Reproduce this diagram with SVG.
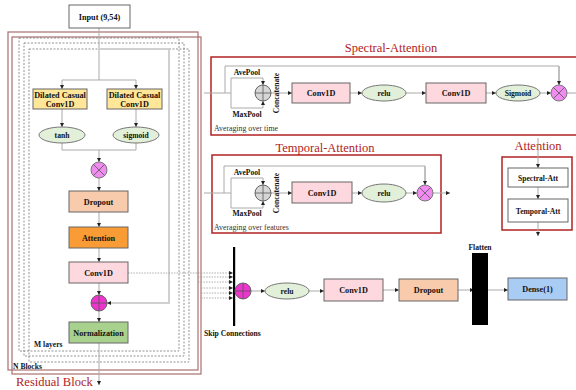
<svg xmlns="http://www.w3.org/2000/svg" width="576" height="390" viewBox="0 0 576 390">
<defs>
<marker id="ah" viewBox="0 0 6 6" refX="6" refY="3" markerWidth="4" markerHeight="4" markerUnits="userSpaceOnUse" orient="auto"><path d="M0,0 L6,3 L0,6 z" fill="#222"/></marker>
<style>
.t{font-family:"Liberation Serif","Times New Roman",serif;font-weight:bold;font-size:8.2px;fill:#111;text-anchor:middle}
.ts{font-family:"Liberation Serif","Times New Roman",serif;font-weight:bold;font-size:7.6px;fill:#111;text-anchor:middle}
.tl{font-family:"Liberation Serif","Times New Roman",serif;font-size:7.8px;fill:#333}
.ttl{font-family:"Liberation Serif","Times New Roman",serif;font-size:12.5px;fill:#b22222;text-anchor:middle}
.box{stroke:#666;stroke-width:1}
.ln{stroke:#aaa;stroke-width:1;fill:none}
.lnm{stroke:#aaa;stroke-width:1;fill:none;marker-end:url(#ah)}
.res{stroke:#a97070;stroke-width:1.2;fill:none}
.dash{stroke:#777;stroke-width:0.8;fill:none;stroke-dasharray:2,1.5}
.dot{stroke:#999;stroke-width:0.8;fill:none;stroke-dasharray:1.5,1.2;marker-end:url(#ah)}
.red{stroke:#b22222;stroke-width:1.5;fill:none}
.ell{fill:#e2efd9;stroke:#777;stroke-width:1}
.mul{fill:#f08cf0;stroke:#777;stroke-width:1}
.add{fill:#ec35cc;stroke:#666;stroke-width:1}
.cat{fill:#d6d6d6;stroke:#666;stroke-width:1}
.x{stroke:#555;stroke-width:0.8}
</style>
</defs>
<rect width="576" height="390" fill="#fff"/>

<!-- container frames -->
<g id="residual-frames">
<rect class="res" x="8" y="32" width="190" height="338"/>
<rect class="res" x="12" y="37" width="189" height="337"/>
<rect class="dash" x="19" y="38" width="160" height="313"/>
<rect class="dash" x="24" y="43" width="160" height="313"/>
<rect class="dash" x="29" y="49" width="160" height="313"/>
<text x="34" y="347" class="ts" style="text-anchor:start">M layers</text>
<text x="13" y="369" class="ts" style="text-anchor:start">N Blocks</text>
<text x="16" y="386" class="ttl" style="text-anchor:start">Residual Block</text>
</g>

<g id="spectral-frame">
<rect class="red" x="211" y="57" width="368" height="78"/>
<text x="391" y="52" class="ttl">Spectral-Attention</text>
<text x="214" y="131" class="tl">Averaging over time</text>
</g>
<g id="temporal-frame">
<rect class="red" x="212" y="155" width="229" height="78"/>
<text x="325" y="152" class="ttl">Temporal-Attention</text>
<text x="214" y="230" class="tl">Averaging over features</text>
</g>
<g id="attention-frame">
<rect class="red" x="502" y="157" width="70" height="73"/>
<text x="538" y="150" class="ttl">Attention</text>
</g>

<!-- connectors -->
<g id="connectors">
<path class="ln" d="M99,28 V80 M62,80 H136"/>
<path class="lnm" d="M62,80 V89"/>
<path class="lnm" d="M136,80 V89"/>
<path class="lnm" d="M62,109 V127"/>
<path class="lnm" d="M136,109 V127"/>
<path class="ln" d="M62,143 V150 H136 V143"/>
<path class="lnm" d="M99,150 V162"/>
<path class="lnm" d="M99,178 V191"/>
<path class="lnm" d="M99,212 V227"/>
<path class="lnm" d="M99,248 V262"/>
<path class="lnm" d="M99,283 V295"/>
<path class="lnm" d="M99,311 V322"/>
<path class="lnm" d="M99,343 V385"/>
<path d="M99,49 H169 V303 H107" fill="none" stroke="#d0d0d0" stroke-width="2" marker-end="url(#ah)"/>
<!-- skip -->
<path class="dot" d="M128,273 H233"/>
<path class="dot" d="M198,277 H233"/>
<path class="dot" d="M198,282 H233"/>
<path class="dot" d="M201,288 H233"/>
<path class="dot" d="M201,293 H233"/>
<path class="dot" d="M201,298 H233"/>
<path class="lnm" d="M251,291 H265"/>
<path class="lnm" d="M309,291 H324"/>
<path class="lnm" d="M383,290 H399"/>
<path class="lnm" d="M458,290 H474"/>
<path class="lnm" d="M488,290 H508"/>
<!-- spectral -->
<path class="ln" d="M204,93 H231 M225,93 V66 H559 V85"/>
<path class="lnm" d="M559,66 V85"/>
<path class="lnm" d="M231,93 V78 H263 V85"/>
<path class="lnm" d="M231,93 V108 H263 V101"/>
<path class="lnm" d="M271,93 H292"/>
<path class="lnm" d="M350,93 H362"/>
<path class="lnm" d="M406,93 H426"/>
<path class="lnm" d="M486,93 H496"/>
<path class="lnm" d="M540,93 H551"/>
<path class="ln" d="M567,93 H576"/>
<!-- temporal -->
<path class="ln" d="M204,193 H231 M224,193 V166 H425 V185"/>
<path class="lnm" d="M425,166 V185"/>
<path class="lnm" d="M231,193 V178 H263 V185"/>
<path class="lnm" d="M231,193 V208 H263 V201"/>
<path class="lnm" d="M271,193 H292"/>
<path class="lnm" d="M352,193 H362"/>
<path class="lnm" d="M406,193 H417"/>
<path class="lnm" d="M433,193 H450"/>
<!-- attention -->
<path class="lnm" d="M538,138 V168"/>
<path class="lnm" d="M538,187 V199"/>
<path class="lnm" d="M538,222 V236"/>
</g>

<!-- nodes -->
<g id="input"><rect class="box" x="69" y="5" width="61" height="23" fill="#fff"/><text x="99.5" y="19.5" class="t">Input (9,54)</text></g>
<g id="dconv-left"><rect class="box" x="33" y="89" width="54" height="20" fill="#ffe699"/><text x="60" y="97.5" class="t">Dilated Casual</text><text x="60" y="106.5" class="t">Conv1D</text></g>
<g id="dconv-right"><rect class="box" x="107" y="89" width="55" height="20" fill="#ffe699"/><text x="134.5" y="97.5" class="t">Dilated Casual</text><text x="134.5" y="106.5" class="t">Conv1D</text></g>
<g id="tanh"><ellipse class="ell" cx="62" cy="135" rx="23" ry="8"/><text x="62" y="138" class="ts">tanh</text></g>
<g id="sigmoid"><ellipse class="ell" cx="136" cy="135" rx="23" ry="8"/><text x="136" y="138" class="ts">sigmoid</text></g>
<g id="mult1"><circle class="mul" cx="99" cy="170" r="8"/><path class="x" d="M93.3,164.3 L104.7,175.7 M104.7,164.3 L93.3,175.7"/></g>
<g id="dropout1"><rect class="box" x="69" y="191" width="59" height="21" fill="#f8cbad"/><text x="98.5" y="204.5" class="t">Dropout</text></g>
<g id="attention1"><rect class="box" x="69" y="227" width="59" height="21" fill="#fa9c35"/><text x="98.5" y="240.5" class="t">Attention</text></g>
<g id="conv1d-res"><rect class="box" x="69" y="262" width="59" height="21" fill="#fdd8df"/><text x="98.5" y="275.5" class="t">Conv1D</text></g>
<g id="add1"><circle class="add" cx="99" cy="303" r="8"/><path class="x" d="M91,303 H107 M99,295 V311"/></g>
<g id="normalization"><rect class="box" x="69" y="322" width="59" height="21" fill="#a9d18e"/><text x="98.5" y="335.5" class="t">Normalization</text></g>

<g id="skip-bar"><rect x="233" y="247" width="2.2" height="79" fill="#000"/><text x="204" y="336" class="ts" style="text-anchor:start">Skip Connections</text></g>
<g id="add2"><circle class="add" cx="243" cy="291" r="8"/><path class="x" d="M235,291 H251 M243,283 V299"/></g>
<g id="relu-out"><ellipse class="ell" cx="287" cy="291" rx="22" ry="8"/><text x="287" y="294" class="ts">relu</text></g>
<g id="conv1d-out"><rect class="box" x="324" y="279" width="59" height="22" fill="#fdd8df"/><text x="353.5" y="293" class="t">Conv1D</text></g>
<g id="dropout-out"><rect class="box" x="399" y="279" width="59" height="22" fill="#f8cbad"/><text x="428.5" y="293" class="t">Dropout</text></g>
<g id="flatten"><rect x="472" y="253" width="16" height="72" fill="#000"/><text x="480" y="250" class="ts">Flatten</text></g>
<g id="dense"><rect class="box" x="508" y="278" width="59" height="22" fill="#a9ccf4"/><text x="537.5" y="292" class="t">Dense(1)</text></g>

<!-- spectral nodes -->
<g id="sa-pool"><text x="247" y="75" class="ts">AvePool</text><text x="247" y="117" class="ts">MaxPool</text></g>
<g id="sa-cat"><circle class="cat" cx="263" cy="93" r="8"/><path class="x" d="M255,93 H271 M263,85 V101"/><text transform="translate(279,93) rotate(-90)" x="0" y="0" class="ts">Concatenate</text></g>
<g id="sa-conv1"><rect class="box" x="292" y="83" width="58" height="20" fill="#fdd8df"/><text x="321" y="96" class="t">Conv1D</text></g>
<g id="sa-relu"><ellipse class="ell" cx="384" cy="93" rx="22" ry="8"/><text x="384" y="96" class="ts">relu</text></g>
<g id="sa-conv2"><rect class="box" x="426" y="83" width="60" height="20" fill="#fdd8df"/><text x="456" y="96" class="t">Conv1D</text></g>
<g id="sa-sigmoid"><ellipse class="ell" cx="518" cy="93" rx="22" ry="8"/><text x="518" y="96" class="ts">Sigmoid</text></g>
<g id="sa-mult"><circle class="mul" cx="559" cy="93" r="8"/><path class="x" d="M553.3,87.3 L564.7,98.7 M564.7,87.3 L553.3,98.7"/></g>

<!-- temporal nodes -->
<g id="ta-pool"><text x="247" y="175" class="ts">AvePool</text><text x="247" y="216" class="ts">MaxPool</text></g>
<g id="ta-cat"><circle class="cat" cx="263" cy="193" r="8"/><path class="x" d="M255,193 H271 M263,185 V201"/><text transform="translate(279,193) rotate(-90)" x="0" y="0" class="ts">Concatenate</text></g>
<g id="ta-conv"><rect class="box" x="292" y="182" width="60" height="21" fill="#fdd8df"/><text x="322" y="196" class="t">Conv1D</text></g>
<g id="ta-relu"><ellipse class="ell" cx="384" cy="193" rx="22" ry="9"/><text x="384" y="196" class="ts">relu</text></g>
<g id="ta-mult"><circle class="mul" cx="425" cy="193" r="8"/><path class="x" d="M419.3,187.3 L430.7,198.7 M430.7,187.3 L419.3,198.7"/></g>

<!-- attention nodes -->
<g id="spectral-att"><rect class="box" x="508" y="168" width="60" height="19" fill="#fff"/><text x="538" y="180.5" class="ts">Spectral-Att</text></g>
<g id="temporal-att"><rect class="box" x="508" y="199" width="60" height="23" fill="#fff"/><text x="538" y="213.5" class="ts">Temporal-Att</text></g>
</svg>
